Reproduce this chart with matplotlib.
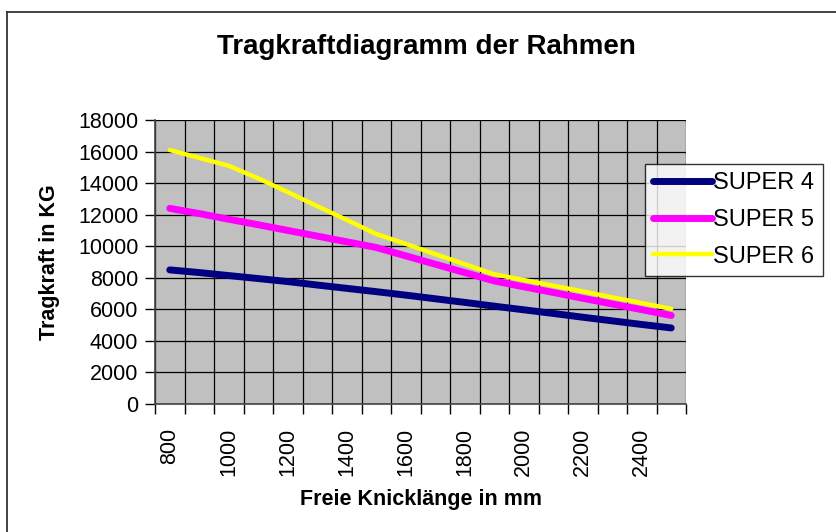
import matplotlib
matplotlib.use("Agg")
import matplotlib.pyplot as plt
from matplotlib.lines import Line2D

plt.rcParams['font.family'] = ['Liberation Sans', 'DejaVu Sans']

# ---- data ----
lengths = [800, 900, 1000, 1100, 1200, 1300, 1400, 1500, 1600, 1700,
           1800, 1900, 2000, 2100, 2200, 2300, 2400, 2500]
super4 = [8500, 8330, 8140, 7950, 7760, 7540, 7330, 7120, 6900, 6670,
          6440, 6200, 5970, 5740, 5500, 5270, 5040, 4820]
super5 = [12400, 12070, 11710, 11360, 11000, 10640, 10280, 9920, 9390, 8860,
          8330, 7800, 7430, 7070, 6700, 6340, 5980, 5610]
super6 = [16100, 15600, 15100, 14300, 13430, 12540, 11670, 10770, 10150, 9500,
          8860, 8220, 7860, 7500, 7140, 6760, 6400, 6030]
series_names = ['SUPER 4', 'SUPER 5', 'SUPER 6']
series_colors = ['#000080', '#FF00FF', '#FFFF00']
series_widths = [5.0, 5.0, 3.2]
y_ticks = [0, 2000, 4000, 6000, 8000, 10000, 12000, 14000, 16000, 18000]

W, H = 836, 532
fig = plt.figure(figsize=(W / 100, H / 100), dpi=100)
fig.patch.set_facecolor('white')

# chart border (only left/top visible in reference)
fig.add_artist(Line2D([6.5 / W, 6.5 / W], [0, 1 - 11.5 / H], transform=fig.transFigure,
                      color='#333333', lw=1.3))
fig.add_artist(Line2D([6.5 / W, 1], [1 - 11.5 / H, 1 - 11.5 / H], transform=fig.transFigure,
                      color='#333333', lw=1.3))

left, right, top, bottom = 155, 686, 120, 404
ax = fig.add_axes([left / W, 1 - bottom / H, (right - left) / W, (bottom - top) / H])
ax.set_facecolor('#C0C0C0')

xs = list(range(len(lengths)))
for vals, c, lw, name in zip([super4, super5, super6], series_colors, series_widths, series_names):
    ax.plot(xs, vals, color=c, lw=lw, solid_capstyle='round', solid_joinstyle='round',
            label=name, zorder=3)

ax.set_xlim(-0.5, len(lengths) - 0.5)
ax.set_ylim(0, 18000)

# category boundaries as major ticks (grid), labels as minor ticks
ax.set_xticks([i - 0.5 for i in range(len(lengths) + 1)])
ax.set_xticklabels([])
ax.set_xticks(xs[::2], minor=True)
ax.set_xticklabels([str(v) for v in lengths[::2]], minor=True, rotation=90, fontsize=15.5)
ax.tick_params(axis='x', which='major', direction='out', length=7, width=1, color='black')
ax.tick_params(axis='x', which='minor', length=0, pad=17)

ax.set_yticks(y_ticks)
ax.set_yticklabels([str(v) for v in y_ticks], fontsize=15.5)
ax.tick_params(axis='y', direction='out', length=7, width=1, pad=5)

ax.grid(True, which='major', color='black', lw=0.9)
ax.set_axisbelow(True)
for s in ['top', 'right']:
    ax.spines[s].set_visible(False)
for s in ['left', 'bottom']:
    ax.spines[s].set_color('#444444')
    ax.spines[s].set_linewidth(1.2)

fig.text(426 / W, 1 - 47 / H, 'Tragkraftdiagramm der Rahmen', ha='center', va='center',
         fontsize=20, fontweight='bold')
fig.text(50 / W, 1 - 262 / H, 'Tragkraft in KG', ha='center', va='center', rotation=90,
         fontsize=15.5, fontweight='bold')
fig.text(421 / W, 1 - 499 / H, 'Freie Knicklänge in mm', ha='center', va='center',
         fontsize=15.5, fontweight='bold')

leg = ax.legend(loc='upper left', bbox_to_anchor=(645 / W, 1 - 164 / H), bbox_transform=fig.transFigure,
                frameon=True, fancybox=False, fontsize=17, handlelength=2.5, handletextpad=0.05,
                labelspacing=0.62, borderpad=0.35, borderaxespad=0)
leg.get_frame().set_edgecolor('black')
leg.get_frame().set_linewidth(1.0)
leg.get_frame().set_facecolor('white')
leg.set_zorder(5)

fig.savefig('out.png', dpi=100, facecolor='white')
